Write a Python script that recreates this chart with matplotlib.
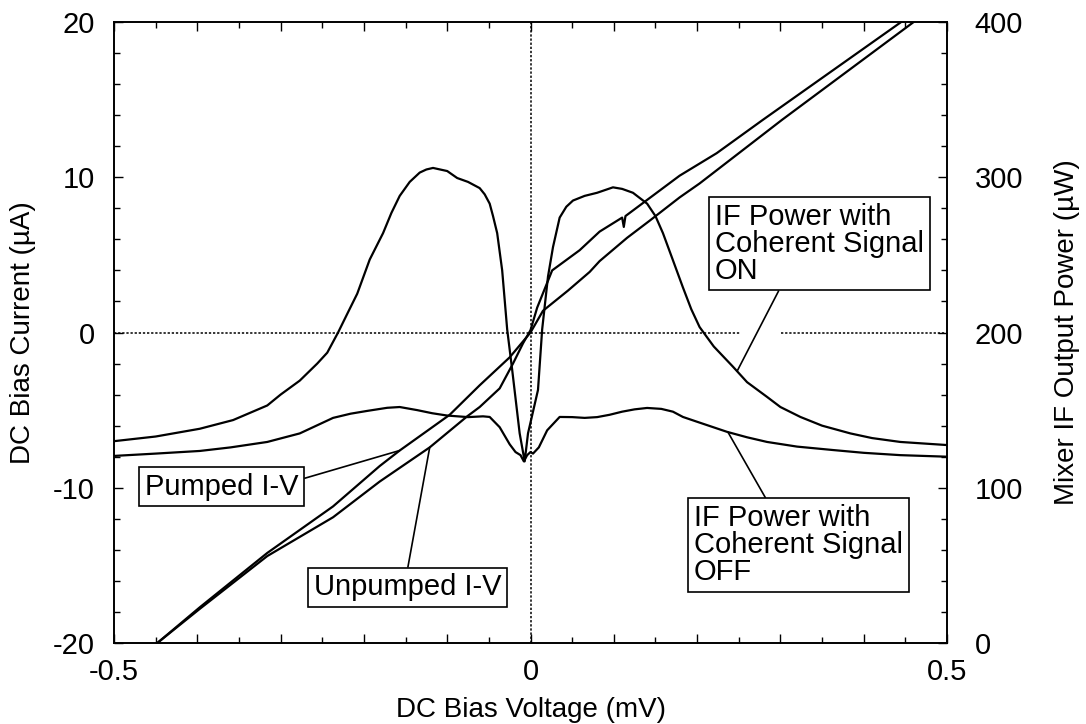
import matplotlib.pyplot as plt
import numpy as np
from matplotlib.ticker import MultipleLocator, FuncFormatter

plt.rcParams['font.family'] = ['Liberation Sans', 'DejaVu Sans']
plt.rcParams['axes.unicode_minus'] = False

# I-V curves (left axis, uA)
pumped_v = [-0.448, -0.397, -0.316, -0.237, -0.181, -0.157, -0.097, -0.061, -0.025, 0.0,
            0.015, 0.045, 0.071, 0.083, 0.116, 0.143, 0.179, 0.203, 0.302, 0.46]
pumped_i = [-20, -17.7, -14.2, -11.2, -8.6, -7.6, -5.3, -3.4, -1.6, 0.0,
            1.4, 2.7, 3.9, 4.6, 6.1, 7.2, 8.7, 9.6, 13.7, 20]

unpumped_v = [-0.448, -0.397, -0.316, -0.237, -0.181, -0.121, -0.076, -0.061, -0.037, -0.021,
              -0.009, 0.0, 0.008, 0.026, 0.059, 0.083, 0.110, 0.112, 0.114, 0.119,
              0.179, 0.2235, 0.279, 0.445]
unpumped_i = [-20, -17.8, -14.4, -11.9, -9.6, -7.4, -5.4, -4.8, -3.6, -2.0,
              -0.7, 0.15, 1.6, 4.0, 5.3, 6.5, 7.4, 6.8, 7.5, 7.7,
              10.1, 11.55, 13.7, 20]

# IF output power (right axis, uW)
on_v = [-0.5, -0.45, -0.397, -0.357, -0.316, -0.3, -0.277, -0.256, -0.244, -0.231,
        -0.22, -0.208, -0.193, -0.177, -0.167, -0.157, -0.145, -0.133, -0.125, -0.117,
        -0.1, -0.088, -0.075, -0.061, -0.055, -0.049, -0.045, -0.040, -0.034, -0.028,
        -0.022, -0.013, -0.007, -0.003, 0.009, 0.014, 0.021, 0.027, 0.035, 0.043,
        0.051, 0.065, 0.080, 0.099, 0.11, 0.123, 0.140, 0.15, 0.159, 0.17,
        0.183, 0.193, 0.203, 0.22, 0.243, 0.26, 0.284, 0.3, 0.324, 0.35,
        0.384, 0.41, 0.444, 0.5]
on_p = [130, 133, 138, 143.6, 153, 160, 169, 180, 187, 200,
        212, 225, 247, 264, 277, 288, 297, 303, 305, 306,
        304, 299.5, 297, 293, 289, 283, 275, 264, 240, 202,
        176, 135, 117, 135, 163, 202, 236, 255, 274, 281,
        285, 288, 290, 293.5, 292.5, 290, 283, 275, 264, 248,
        229, 215, 203.5, 191, 178, 168, 158.5, 152, 145.6, 140,
        135, 132, 129.5, 127.5]

off_v = [-0.5, -0.45, -0.397, -0.36, -0.316, -0.277, -0.257, -0.237, -0.216, -0.196,
         -0.172, -0.157, -0.136, -0.118, -0.1, -0.075, -0.057, -0.049, -0.037, -0.025,
         -0.018, -0.012, -0.008, -0.004, 0.0, 0.003, 0.01, 0.02, 0.035, 0.05,
         0.065, 0.08, 0.095, 0.11, 0.125, 0.14, 0.157, 0.171, 0.183, 0.2,
         0.236, 0.26, 0.284, 0.32, 0.363, 0.4, 0.444, 0.5]
off_p = [120.5, 122, 123.7, 126, 129.5, 135, 140, 145, 147.7, 149.5,
         151.5, 152, 150, 148, 146.5, 145.5, 146, 145.6, 139, 128,
         123, 121, 117, 121, 123, 122, 126, 137, 145.6, 145.5,
         145, 145.5, 147, 149, 150.5, 151.4, 150.8, 149, 145.6, 142.5,
         136, 132.5, 129.5, 126.5, 124.3, 122.5, 121, 120]

fig = plt.figure(figsize=(10.86, 7.24), dpi=100)
ax = fig.add_axes([114 / 1086, 81 / 724, 833 / 1086, 621 / 724])
ax2 = ax.twinx()

lw = 1.6
ax.plot(pumped_v, pumped_i, color='black', lw=lw)
ax.plot(unpumped_v, unpumped_i, color='black', lw=lw)
ax2.plot(on_v, on_p, color='black', lw=lw)
ax2.plot(off_v, off_p, color='black', lw=lw)

# dotted zero lines
ax.axvline(0, color='black', lw=1.1, ls=(0, (1.5, 1.2)))
ax.hlines(0, -0.5, 0.253, color='black', lw=1.1, linestyles=(0, (1.5, 1.2)))
ax.hlines(0, 0.301, 0.5, color='black', lw=1.1, linestyles=(0, (1.5, 1.2)))

ax.set_xlim(-0.5, 0.5)
ax.set_ylim(-20, 20)
ax2.set_ylim(0, 400)

fs = 21
ax.xaxis.set_major_locator(MultipleLocator(0.1))
ax.xaxis.set_minor_locator(MultipleLocator(0.05))
ax.xaxis.set_major_formatter(FuncFormatter(
    lambda v, p: {-0.5: '-0.5', 0.0: '0', 0.5: '0.5'}.get(round(v, 2), '')))
ax.yaxis.set_major_locator(MultipleLocator(10))
ax.yaxis.set_minor_locator(MultipleLocator(2))
ax2.yaxis.set_major_locator(MultipleLocator(100))
ax2.yaxis.set_minor_locator(MultipleLocator(20))

ax.tick_params(which='both', direction='in', top=True, right=False, labelsize=fs, width=1)
ax.tick_params(which='major', length=6.5)
ax.tick_params(which='minor', length=4.3)
ax.tick_params(axis='y', pad=14)
ax.tick_params(axis='x', pad=11)
ax2.tick_params(which='both', direction='in', labelsize=fs, width=1, pad=20)
ax2.tick_params(which='major', length=6.5)
ax2.tick_params(which='minor', length=4.3)

for a in (ax, ax2):
    for s in a.spines.values():
        s.set_linewidth(1.2)

ax.set_xlabel('DC Bias Voltage (mV)', fontsize=20, labelpad=8)
ax.set_ylabel('DC Bias Current (µA)', fontsize=20, labelpad=12)
ax2.set_ylabel('Mixer IF Output Power (µW)', fontsize=20, labelpad=22)

box = dict(boxstyle='square,pad=0.2', fc='white', ec='black', lw=1.2)


def label(text, x_target, xs, ys, trans, xytext, ha, va, relpos):
    y_target = np.interp(x_target, xs, ys)
    ax2.annotate(text, xy=(x_target, y_target), xycoords=trans,
                 xytext=xytext, textcoords='axes fraction', ha=ha, va=va,
                 fontsize=fs, linespacing=0.95, bbox=box,
                 arrowprops=dict(arrowstyle='-', color='black', lw=1.2,
                                 shrinkA=0, shrinkB=0, relpos=relpos))


label('Pumped I-V', -0.157, pumped_v, pumped_i, ax.transData,
      (0.0372, 0.252), 'left', 'center', (1, 0.73))
label('Unpumped I-V', -0.121, unpumped_v, unpumped_i, ax.transData,
      (0.240, 0.0894), 'left', 'center', (0.495, 1))
label('IF Power with\nCoherent Signal\nON', 0.248, on_v, on_p, ax2.transData,
      (0.7215, 0.643), 'left', 'center', (0.32, 0))
label('IF Power with\nCoherent Signal\nOFF', 0.237, off_v, off_p, ax2.transData,
      (0.696, 0.158), 'left', 'center', (0.36, 1))

fig.savefig('out.png', dpi=100)
